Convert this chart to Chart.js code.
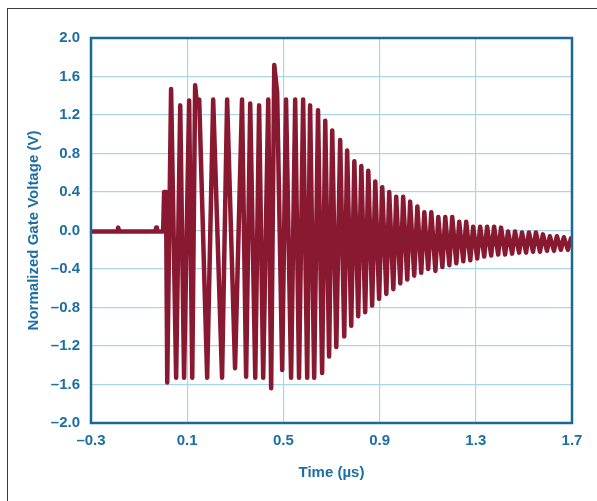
<!DOCTYPE html>
<html>
<head>
<meta charset="utf-8">
<script src="https://cdn.jsdelivr.net/npm/chart.js@4.4.1/dist/chart.umd.min.js"></script>
<style>
  html, body { margin: 0; padding: 0; background: #ffffff; }
  #wrap { position: relative; width: 597px; height: 501px; overflow: hidden; }
  #frame { position: absolute; left: 7px; top: 8px; width: 700px; height: 700px;
           border-left: 1px solid #3a3a3a; border-top: 1px solid #3a3a3a; pointer-events: none; }
  canvas { position: absolute; left: 0; top: 0; }
</style>
</head>
<body>
<div id="wrap">
  <div id="frame"></div>
  <canvas id="c" width="597" height="501"></canvas>
</div>
<script>
// ---- data (time in µs, normalized gate voltage in V) ----
const times = [
  -0.300, -0.190, -0.187, -0.183, -0.032, -0.029, -0.026, 0.000,
  0.004, 0.012, 0.017, 0.033, 0.054, 0.071, 0.087, 0.108, 0.121, 0.133,
  0.141, 0.150, 0.183, 0.208, 0.245, 0.266, 0.299, 0.328, 0.345, 0.362,
  0.383, 0.399, 0.416, 0.437, 0.449, 0.462, 0.474, 0.495, 0.511, 0.532,
  0.549, 0.565, 0.582, 0.599, 0.611, 0.628, 0.644, 0.661, 0.674, 0.690,
  0.703, 0.720, 0.736, 0.753, 0.765, 0.782, 0.795, 0.811, 0.824, 0.840,
  0.853, 0.869, 0.882, 0.898, 0.911, 0.928, 0.940, 0.957, 0.969, 0.986,
  0.998, 1.015, 1.027, 1.044, 1.057, 1.073, 1.086, 1.102, 1.115, 1.132,
  1.144, 1.161, 1.173, 1.190, 1.202, 1.219, 1.231, 1.248, 1.260, 1.277,
  1.289, 1.306, 1.318, 1.335, 1.347, 1.364, 1.376, 1.393, 1.405, 1.422,
  1.434, 1.451, 1.463, 1.480, 1.492, 1.509, 1.521, 1.538, 1.550, 1.567,
  1.579, 1.596, 1.608, 1.625, 1.637, 1.654, 1.666, 1.683, 1.696
];
const volts = [
  -0.01, -0.01, 0.03, -0.01, -0.01, 0.03, -0.01, -0.01,
  0.40, 0.40, -1.58, 1.47, -1.53, 1.30, -1.53, 1.35, -1.53, 1.51,
  1.30, 1.36, -1.53, 1.36, -1.53, 1.36, -1.43, 1.36, -1.52, 1.32,
  -1.53, 1.30, -1.53, 1.36, -1.64, 1.72, 1.44, -1.45, 1.36, -1.53,
  1.36, -1.53, 1.36, -1.53, 1.30, -1.53, 1.25, -1.48, 1.14, -1.31,
  1.04, -1.21, 0.94, -1.10, 0.83, -0.99, 0.72, -0.89, 0.67, -0.85,
  0.62, -0.78, 0.51, -0.71, 0.45, -0.66, 0.40, -0.61, 0.35, -0.55,
  0.35, -0.51, 0.30, -0.47, 0.25, -0.44, 0.19, -0.40, 0.19, -0.42,
  0.14, -0.38, 0.14, -0.36, 0.14, -0.34, 0.09, -0.32, 0.09, -0.31,
  0.04, -0.29, 0.04, -0.27, 0.04, -0.26, 0.04, -0.25, 0.03, -0.25,
  -0.01, -0.24, -0.01, -0.23, -0.02, -0.23, -0.02, -0.22, -0.02, -0.22,
  -0.04, -0.21, -0.06, -0.21, -0.06, -0.20, -0.07, -0.20, -0.08
];
const xTicks = [-0.3, 0.1, 0.5, 0.9, 1.3, 1.7];
const xTickLabels = ['\u20130.3', '0.1', '0.5', '0.9', '1.3', '1.7'];
const yTicks = [2.0, 1.6, 1.2, 0.8, 0.4, 0.0, -0.4, -0.8, -1.2, -1.6, -2.0];
const yTickLabels = ['2.0', '1.6', '1.2', '0.8', '0.4', '0.0', '\u20130.4', '\u20130.8', '\u20131.2', '\u20131.6', '\u20132.0'];

const points = times.map((t, i) => ({ x: t, y: volts[i] }));

const textBlue = '#1d6ea3';
const gridBlue = '#a9d6ec';
const frameBlue = '#1b6896';
const font = { family: 'Liberation Sans, Arial, sans-serif', size: 15, weight: 'bold' };

const framePlugin = {
  id: 'frame',
  afterDraw(chart) {
    const { ctx, chartArea: a } = chart;
    ctx.save();
    ctx.strokeStyle = frameBlue;
    ctx.lineWidth = 2.5;
    ctx.strokeRect(a.left, a.top, a.right - a.left, a.bottom - a.top);
    ctx.restore();
  }
};

new Chart(document.getElementById('c'), {
  type: 'line',
  data: {
    datasets: [{
      data: points,
      borderColor: '#891831',
      borderWidth: 4.5,
      pointRadius: 0,
      tension: 0,
      borderJoinStyle: 'round',
      borderCapStyle: 'round',
      fill: false
    }]
  },
  options: {
    responsive: false,
    animation: false,
    layout: { padding: { top: 38, right: 25, left: 0, bottom: 0 } },
    plugins: { legend: { display: false }, tooltip: { enabled: false } },
    scales: {
      x: {
        type: 'linear',
        min: -0.3, max: 1.7,
        afterFit: s => { s.height = 78; },
        afterBuildTicks: s => { s.ticks = xTicks.map(v => ({ value: v })); },
        ticks: {
          autoSkip: false, maxRotation: 0, padding: 9, color: textBlue, font: font,
          callback: (v, i) => xTickLabels[i]
        },
        grid: { color: gridBlue, lineWidth: 1.2, drawTicks: false },
        border: { display: false },
        title: { display: true, text: 'Time (\u00b5s)', color: textBlue, font: font,
                 padding: { top: 0, bottom: 19 } }
      },
      y: {
        type: 'linear',
        min: -2, max: 2,
        afterFit: s => { s.width = 91; },
        afterBuildTicks: s => { s.ticks = yTicks.map(v => ({ value: v })); },
        ticks: {
          autoSkip: false, padding: 11, color: textBlue, font: font,
          callback: (v, i) => yTickLabels[i]
        },
        grid: { color: gridBlue, lineWidth: 1.2, drawTicks: false },
        border: { display: false },
        title: { display: true, text: 'Normalized Gate Voltage (V)', color: textBlue, font: font,
                 padding: { top: 25, bottom: 0 } }
      }
    }
  },
  plugins: [framePlugin]
});
</script>
</body>
</html>
